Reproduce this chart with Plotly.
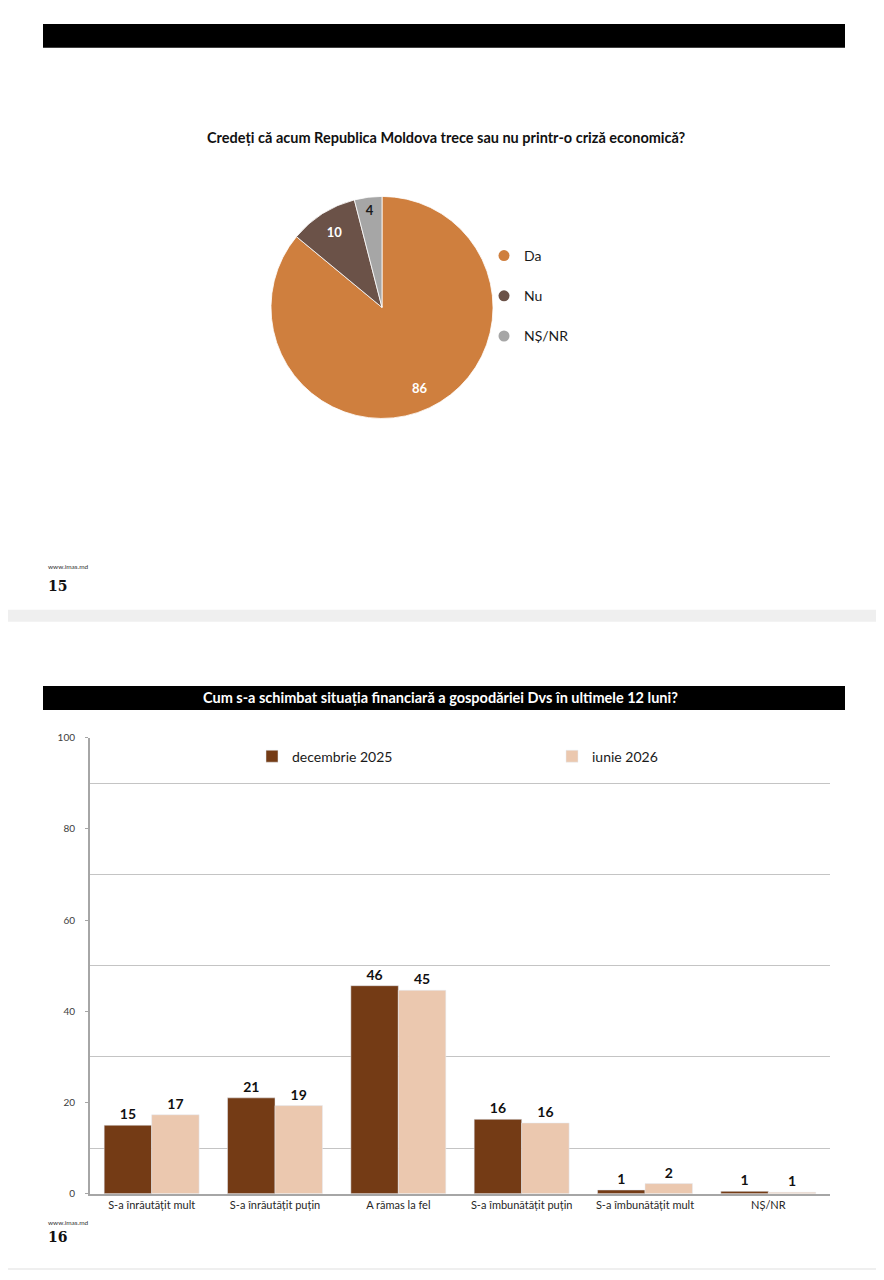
import plotly.graph_objects as go

# page is 884x1280; the browser adds an 8px body margin, so the figure is made
# 16px smaller to fit without scrolling
PAGE_W, PAGE_H = 884, 1280
OFF = 8
W, H = PAGE_W - 2 * OFF, PAGE_H - 2 * OFF - 2

# --- slide 15: pie ---
pie_labels = ["Da", "Nu", "NȘ/NR"]
pie_values = [86, 10, 4]
pie_colors = ["#CF7F3E", "#6B5248", "#A6A6A6"]
pie_text_colors = ["white", "white", "#1a1a1a"]
pie_title = "Credeți că acum Republica Moldova trece sau nu printr-o criză economică?"

# --- slide 16: grouped bars ---
categories = [
    "S-a înrăutățit mult",
    "S-a înrăutățit puțin",
    "A rămas la fel",
    "S-a îmbunătățit puțin",
    "S-a îmbunătățit mult",
    "NȘ/NR",
]
dec_2025 = [15.0, 21.0, 45.6, 16.3, 0.8, 0.5]
dec_2025_labels = ["15", "21", "46", "16", "1", "1"]
jun_2026 = [17.3, 19.3, 44.6, 15.5, 2.2, 0.3]
jun_2026_labels = ["17", "19", "45", "16", "2", "1"]
bar_title = "Cum s-a schimbat situația financiară a gospodăriei Dvs în ultimele 12 luni?"
y_ticks = [0, 20, 40, 60, 80, 100]

FONT = "Lato"
DARK = "#743B15"
LIGHT = "#EBC8AF"


def px_x(x):
    return (x - OFF) / W


def px_y(y):
    return 1 - (y - OFF) / H


pie_domain = {"x": [px_x(270), px_x(494)], "y": [px_y(416), px_y(192)]}

fig = go.Figure()

fig.add_trace(
    go.Pie(
        labels=pie_labels,
        values=pie_values,
        sort=False,
        direction="clockwise",
        rotation=0,
        domain=pie_domain,
        marker={"colors": pie_colors, "line": {"color": "white", "width": 0.8}},
        textinfo="none",
        showlegend=False,
        hoverinfo="label+value",
    )
)
# transparent ring on top, only to place the value labels near the rim
fig.add_trace(
    go.Pie(
        labels=pie_labels,
        values=pie_values,
        sort=False,
        direction="clockwise",
        rotation=0,
        hole=0.6,
        domain=pie_domain,
        marker={"colors": ["rgba(0,0,0,0)"] * 3, "line": {"width": 0}},
        texttemplate="<b>%{value}</b>",
        textposition="inside",
        insidetextorientation="horizontal",
        textfont={"family": FONT, "size": 13, "color": pie_text_colors},
        showlegend=False,
        hoverinfo="skip",
    )
)

# circle markers for the pie legend (on a hidden axis)
for name, color in zip(pie_labels, pie_colors):
    fig.add_trace(
        go.Scatter(
            x=[None],
            y=[None],
            mode="markers",
            name=name,
            marker={"symbol": "circle", "size": 11, "color": color},
            xaxis="x2",
            yaxis="y2",
            legend="legend2",
            legendgroup=name,
        )
    )

fig.add_trace(
    go.Bar(
        x=categories,
        y=dec_2025,
        name="decembrie 2025",
        marker_color=DARK,
        text=dec_2025_labels,
        textposition="outside",
        textfont={"family": FONT, "size": 14, "color": "#111111"},
        texttemplate="<b>%{text}</b>",
        cliponaxis=False,
    )
)
fig.add_trace(
    go.Bar(
        x=categories,
        y=jun_2026,
        name="iunie 2026",
        marker_color=LIGHT,
        text=jun_2026_labels,
        textposition="outside",
        textfont={"family": FONT, "size": 14, "color": "#111111"},
        texttemplate="<b>%{text}</b>",
        cliponaxis=False,
    )
)

shapes = [
    # slides
    dict(type="rect", xref="paper", yref="paper", x0=px_x(5), x1=px_x(879),
         y0=px_y(609), y1=px_y(0), fillcolor="white", line_width=0, layer="below"),
    dict(type="rect", xref="paper", yref="paper", x0=px_x(5), x1=px_x(879),
         y0=px_y(1273), y1=px_y(621), fillcolor="white", line_width=0, layer="below"),
    # black header bars
    dict(type="rect", xref="paper", yref="paper", x0=px_x(43), x1=px_x(845),
         y0=px_y(42), y1=px_y(18), fillcolor="black", line_width=0, layer="below"),
    dict(type="rect", xref="paper", yref="paper", x0=px_x(43), x1=px_x(845),
         y0=px_y(710), y1=px_y(686), fillcolor="black", line_width=0, layer="below"),
]

annotations = [
    dict(text=f"<b>{pie_title}</b>", x=px_x(447), y=px_y(122), xref="paper", yref="paper",
         showarrow=False, font={"family": FONT, "size": 14.5, "color": "#111111"}),
    dict(text=f"<b>{bar_title}</b>", x=px_x(440), y=px_y(698), xref="paper", yref="paper",
         showarrow=False, font={"family": FONT, "size": 14.5, "color": "white"}),
]
for y_web, y_num, num in [(565, 585, "15"), (1233, 1252, "16")]:
    annotations.append(
        dict(text="www.imas.md", x=px_x(46), y=px_y(y_web), xref="paper", yref="paper",
             xanchor="left", showarrow=False, font={"family": FONT, "size": 6.5, "color": "#333333"})
    )
    annotations.append(
        dict(text=f"<b>{num}</b>", x=px_x(46), y=px_y(y_num), xref="paper", yref="paper",
             xanchor="left", showarrow=False,
             font={"family": "DejaVu Serif", "size": 14, "color": "#111111"})
    )

fig.update_layout(
    width=W,
    height=H,
    margin=dict(l=0, r=0, t=0, b=0),
    paper_bgcolor="#efefef",
    plot_bgcolor="rgba(0,0,0,0)",
    font={"family": FONT},
    barmode="group",
    bargap=0.23,
    bargroupgap=0,
    shapes=shapes,
    annotations=annotations,
    xaxis=dict(
        domain=[px_x(90), px_x(830)],
        showline=True,
        linecolor="#a6a6a6",
        linewidth=1.5,
        ticks="",
        tickfont={"family": FONT, "size": 11, "color": "#262626"},
        anchor="y",
    ),
    yaxis=dict(
        domain=[px_y(1198), px_y(738)],
        range=[0, 100],
        tickvals=y_ticks,
        showline=True,
        linecolor="#a6a6a6",
        linewidth=2,
        ticks="outside",
        ticklen=3,
        tickcolor="#a6a6a6",
        ticklabelstandoff=8,
        tickfont={"family": FONT, "size": 10, "color": "#404040"},
        showgrid=False,
        zeroline=False,
        minor=dict(tick0=10, dtick=20, showgrid=True, gridcolor="#c4c4c4", gridwidth=1, ticks=""),
        anchor="x",
    ),
    xaxis2=dict(domain=[0, 0.01], visible=False, anchor="y2"),
    yaxis2=dict(domain=[0.99, 1], visible=False, anchor="x2"),
    legend=dict(
        orientation="h",
        x=px_x(252),
        y=px_y(741),
        xanchor="left",
        yanchor="top",
        entrywidth=255,
        bgcolor="rgba(0,0,0,0)",
        font={"family": FONT, "size": 14, "color": "#1a1a1a"},
    ),
    legend2=dict(
        orientation="v",
        x=px_x(484),
        y=px_y(236),
        xanchor="left",
        yanchor="top",
        tracegroupgap=19,
        bgcolor="rgba(0,0,0,0)",
        font={"family": FONT, "size": 14, "color": "#1a1a1a"},
    ),
)

fig.write_html("out.html")
